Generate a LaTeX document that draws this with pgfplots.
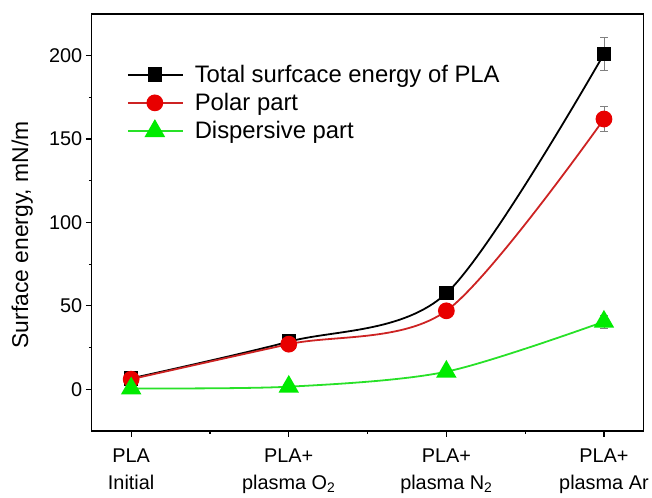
\documentclass[border=0pt]{standalone}
\usepackage{fontspec}
\setmainfont{Liberation Sans}
\usepackage{pgfplots}
\pgfplotsset{compat=1.18}
\definecolor{ptRed}{RGB}{232,0,0}
\definecolor{lnRed}{RGB}{205,35,35}
\definecolor{ptGreen}{RGB}{0,235,0}
\definecolor{lnGreen}{RGB}{40,225,40}
\newcommand\tickfont{\fontsize{20}{28}\selectfont}
\newcommand\labfont{\fontsize{23}{28}\selectfont}
\newcommand\legfont{\fontsize{24}{28}\selectfont}

\begin{document}
\begin{tikzpicture}
\begin{axis}[
  scale only axis, width=553bp, height=418bp,
  xmin=-0.25, xmax=3.25, ymin=-25, ymax=225,
  xtick={0,1,2,3},
  xticklabels={{PLA\\Initial},{PLA+\\plasma O\textsubscript{2}},{PLA+\\plasma N\textsubscript{2}},{PLA+\\plasma Ar}},
  minor xtick={0.5,1.5,2.5},
  ytick={0,50,100,150,200}, minor y tick num=1,
  tick pos=left, tick align=outside,
  major tick length=6bp, minor tick length=3bp,
  axis line style={line width=1.4bp},
  every tick/.style={black, line width=1.1bp},
  /pgf/number format/assume math mode=true,
  tick label style={font=\tickfont},
  xticklabel style={align=center, anchor=north, yshift=-8bp},
  ylabel={Surface energy, mN/m},
  ylabel style={font=\labfont, at={(axis description cs:-0.126,0.47)}, anchor=center},
  legend style={draw=none, fill=none, font=\legfont, at={(axis description cs:0.058,0.887)}, anchor=north west, row sep=5.5bp,
    /tikz/every odd column/.append style={column sep=9bp}},
  legend cell align=left,
  legend image code/.code={\draw[mark repeat=2,mark phase=2] plot coordinates {(0bp,0bp)(27bp,0bp)(55bp,0bp)};},
  clip=false,
  error bars/error bar style={gray, line width=0.7bp},
  error bars/error mark options={rotate=90, mark size=3.6bp, gray, line width=0.7bp},
]
\addlegendimage{black, line width=1.8bp, mark=square*, mark size=6.3bp, mark options={solid, fill=black}}
\addlegendentry{Total surfcace energy of PLA}
\addlegendimage{lnRed, line width=1.8bp, mark=*, mark size=7.5bp, mark options={solid, fill=ptRed, draw=ptRed}}
\addlegendentry{Polar part}
\addlegendimage{lnGreen, line width=2bp, mark=triangle*, mark size=10bp, mark options={solid, fill=ptGreen, draw=ptGreen}}
\addlegendentry{Dispersive part}
\addplot[forget plot, black, line width=1.8bp, smooth, mark=square*, mark size=6.3bp,
  mark options={solid, fill=black},
  error bars/.cd, y dir=both, y explicit]
  coordinates {(0,6.5) +- (0,2) (1,28.5) +- (0,2) (2,57.5) +- (0,2) (3,201) +- (0,10)};
\addplot[forget plot, lnRed, line width=1.8bp, smooth, mark=*, mark size=7.5bp,
  mark options={solid, fill=ptRed, draw=ptRed},
  error bars/.cd, y dir=both, y explicit]
  coordinates {(0,6) +- (0,2) (1,27) +- (0,2) (2,47) +- (0,2) (3,162) +- (0,7.5)};
\addplot[forget plot, lnGreen, line width=1.8bp, smooth, mark=triangle*, mark size=10bp,
  mark options={solid, fill=ptGreen, draw=ptGreen},
  error bars/.cd, y dir=both, y explicit]
  coordinates {(0,0.5) +- (0,3) (1,1.5) +- (0,3) (2,10.5) +- (0,3) (3,40.5) +- (0,4)};
\path (rel axis cs:0,0) ++(-92bp,-67bp);
\path (rel axis cs:1,1) ++(7bp,14bp);
\end{axis}
\end{tikzpicture}
\end{document}
